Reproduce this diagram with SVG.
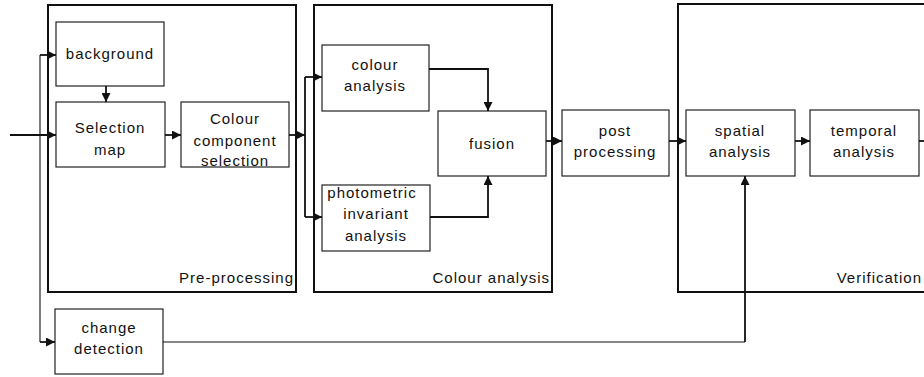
<svg xmlns="http://www.w3.org/2000/svg" width="924" height="377" viewBox="0 0 924 377">
  <style>
    .group { fill: none; stroke: #111; stroke-width: 2; }
    .node rect { fill: #fff; stroke: #222; stroke-width: 1.2; }
    text { font-family: "Liberation Sans", Arial, sans-serif; font-size: 15px; fill: #111; letter-spacing: 1px; }
    .c { text-anchor: middle; }
    .r { text-anchor: end; }
    .wire { fill: none; stroke: #111; stroke-width: 1.8; }
    .thin { fill: none; stroke: #111; stroke-width: 1.1; }
  </style>
  <defs>
    <marker id="arr" viewBox="0 0 10 10" refX="10" refY="5" markerWidth="10" markerHeight="9" markerUnits="userSpaceOnUse" orient="auto">
      <path d="M0,0 L10,5 L0,10 Z" fill="#111"/>
    </marker>
  </defs>
  <rect width="924" height="377" fill="#fff"/>

  <!-- stage frames -->
  <g id="pre-processing">
    <rect class="group" x="48" y="5" width="248" height="287"/>
    <text class="r" x="294" y="283">Pre-processing</text>
  </g>
  <g id="colour-analysis-stage">
    <rect class="group" x="314" y="5" width="238" height="287"/>
    <text class="r" x="550" y="283">Colour analysis</text>
  </g>
  <g id="verification">
    <path class="group" d="M930,4 H678 V292 H930"/>
    <text class="r" x="922" y="283" letter-spacing="0.6">Verification</text>
  </g>

  <!-- processing blocks -->
  <g id="background" class="node">
    <rect x="56" y="22" width="108" height="64"/>
    <text class="c" x="110" y="59">background</text>
  </g>
  <g id="selection-map" class="node">
    <rect x="56" y="102" width="109" height="65"/>
    <text class="c" x="110" y="133">Selection</text>
    <text class="c" x="110" y="155">map</text>
  </g>
  <g id="colour-component-selection" class="node">
    <rect x="181" y="102" width="108" height="65"/>
    <text class="c" x="235" y="124">Colour</text>
    <text class="c" x="235" y="146">component</text>
    <text class="c" x="235" y="166">selection</text>
  </g>
  <g id="colour-analysis" class="node">
    <rect x="322" y="45" width="107" height="66"/>
    <text class="c" x="375" y="70">colour</text>
    <text class="c" x="375" y="91">analysis</text>
  </g>
  <g id="photometric-invariant-analysis" class="node">
    <rect x="322" y="185" width="108" height="66"/>
    <text class="c" x="372" y="198">photometric</text>
    <text class="c" x="376" y="219">invariant</text>
    <text class="c" x="376" y="241">analysis</text>
  </g>
  <g id="fusion" class="node">
    <rect x="438" y="111" width="108" height="65"/>
    <text class="c" x="492" y="149">fusion</text>
  </g>
  <g id="post-processing" class="node">
    <rect x="562" y="110" width="107" height="66"/>
    <text class="c" x="615" y="136">post</text>
    <text class="c" x="615" y="157">processing</text>
  </g>
  <g id="spatial-analysis" class="node">
    <rect x="686" y="110" width="109" height="66"/>
    <text class="c" x="740" y="136">spatial</text>
    <text class="c" x="740" y="157">analysis</text>
  </g>
  <g id="temporal-analysis" class="node">
    <rect x="810" y="110" width="109" height="66"/>
    <text class="c" x="864" y="136">temporal</text>
    <text class="c" x="864" y="157">analysis</text>
  </g>
  <g id="change-detection" class="node">
    <rect x="55" y="309" width="108" height="65"/>
    <text class="c" x="109" y="333">change</text>
    <text class="c" x="109" y="354">detection</text>
  </g>

  <!-- connectors -->
  <g id="connectors">
    <path class="wire" d="M10,135 H56" marker-end="url(#arr)"/>
    <path class="thin" d="M40,342 V55"/>
    <path class="wire" d="M40,55 H56" marker-end="url(#arr)"/>
    <path class="wire" d="M40,342 H55" marker-end="url(#arr)"/>
    <path class="wire" d="M106,86 V102" marker-end="url(#arr)"/>
    <path class="wire" d="M165,135 H181" marker-end="url(#arr)"/>
    <path class="wire" d="M289,135 H305" marker-end="url(#arr)"/>
    <path class="wire" d="M305,77 V217"/>
    <path class="wire" d="M305,77 H322" marker-end="url(#arr)"/>
    <path class="wire" d="M305,217 H322" marker-end="url(#arr)"/>
    <path class="wire" d="M429,69 H488 V111" marker-end="url(#arr)"/>
    <path class="wire" d="M430,217 H488 V176" marker-end="url(#arr)"/>
    <path class="wire" d="M546,141 H562" marker-end="url(#arr)"/>
    <path class="wire" d="M669,141 H686" marker-end="url(#arr)"/>
    <path class="wire" d="M795,141 H810" marker-end="url(#arr)"/>
    <path class="wire" d="M919,141 H924"/>
    <path class="thin" d="M163,342 H745"/>
    <path class="wire" d="M745,342 V176" marker-end="url(#arr)"/>
  </g>
</svg>
